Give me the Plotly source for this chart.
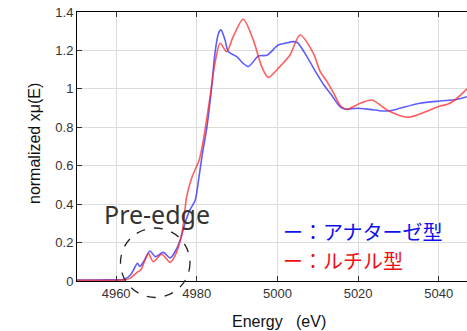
import plotly.graph_objects as go

# Anatase (blue)
anatase_E = [4950, 4958, 4962, 4963.5, 4964.5, 4965.3, 4965.9, 4966.8, 4968.4, 4969.7,
             4971.7, 4973.4, 4974.8, 4976.0, 4977.2, 4978.3, 4979.6, 4980.4, 4981.3,
             4982.5, 4983.7, 4984.5, 4985.4, 4986.0, 4987.0, 4987.8, 4989.9, 4991.5,
             4992.8, 4995.3, 4997.4, 5000.2, 5002.0, 5004.0, 5005.0, 5007.3, 5009.7,
             5011.5, 5013.5, 5015.5, 5016.8, 5019.7, 5022.9, 5026.0, 5028.0, 5030.4,
             5035.3, 5040.3, 5044.4, 5047.0]
anatase_mu = [0.005, 0.006, 0.009, 0.03, 0.065, 0.092, 0.076, 0.10, 0.156, 0.127,
              0.149, 0.12, 0.16, 0.22, 0.31, 0.37, 0.42, 0.52, 0.65,
              0.80, 1.01, 1.185, 1.29, 1.307, 1.255, 1.194, 1.168, 1.133,
              1.116, 1.171, 1.175, 1.228, 1.238, 1.246, 1.24, 1.168, 1.081,
              1.02, 0.965, 0.907, 0.894, 0.899, 0.893, 0.885, 0.886, 0.899,
              0.925, 0.937, 0.945, 0.959]

# Rutile (red)
rutile_E = [4950, 4958, 4962, 4963.5, 4965.2, 4966.2, 4967.0, 4968.0, 4969.2, 4971.3,
            4973.4, 4974.8, 4976.0, 4976.7, 4977.5, 4978.8, 4979.6, 4980.6, 4981.6,
            4983.3, 4984.5, 4985.8, 4987.4, 4989.0, 4991.5, 4994.0, 4996.1, 4997.7,
            5000.6, 5003.1, 5005.6, 5008.9, 5010.6, 5012.2, 5014.0, 5015.5, 5017.2,
            5020.5, 5023.4, 5026.2, 5028.0, 5032.4, 5037.8, 5040.3, 5042.0, 5044.0,
            5047.0]
rutile_mu = [0.003, 0.004, 0.006, 0.015, 0.045, 0.06, 0.10, 0.144, 0.10, 0.139,
             0.097, 0.14, 0.22, 0.30, 0.44, 0.54, 0.58, 0.63, 0.73,
             0.96, 1.133, 1.237, 1.194, 1.27, 1.362, 1.255, 1.116, 1.06,
             1.116, 1.176, 1.28, 1.185, 1.09, 1.04, 0.975, 0.916, 0.894,
             0.925, 0.942, 0.904, 0.881, 0.852, 0.89, 0.911, 0.918, 0.942,
             1.0]

x_ticks = [4960, 4980, 5000, 5020, 5040]
y_ticks = [0, 0.2, 0.4, 0.6, 0.8, 1, 1.2, 1.4]

fig = go.Figure()
fig.add_trace(go.Scatter(x=anatase_E, y=anatase_mu, mode="lines",
                         line=dict(color="rgba(40,40,255,0.75)", width=1.6, shape="spline", smoothing=0.8),
                         showlegend=False))
fig.add_trace(go.Scatter(x=rutile_E, y=rutile_mu, mode="lines",
                         line=dict(color="rgba(255,40,40,0.75)", width=1.6, shape="spline", smoothing=0.8),
                         showlegend=False))

tickfont = dict(family="Liberation Sans Narrow, Liberation Sans, Arial", size=13, color="#333")
fig.update_xaxes(range=[4950.3, 5047.0], tickvals=x_ticks, showgrid=True, gridcolor="#dcdcdc",
                 gridwidth=1, showline=True, linecolor="black", linewidth=1, mirror="ticks",
                 ticks="inside", ticklen=5, tickcolor="#333", tickfont=tickfont, zeroline=False)
fig.update_yaxes(range=[0, 1.4], tickvals=y_ticks, showgrid=True, gridcolor="#dcdcdc",
                 gridwidth=1, showline=True, linecolor="black", linewidth=1,
                 ticks="inside", ticklen=5, tickcolor="#333", tickfont=tickfont, zeroline=False)

fig.update_layout(
    width=467, height=331,
    margin=dict(l=77, r=0, t=12, b=50),
    plot_bgcolor="white", paper_bgcolor="white",
    shapes=[dict(type="circle", xref="paper", yref="paper",
                 x0=0.1115, x1=0.2897, y0=-0.0613, y1=0.197,
                 line=dict(color="#222", width=1.3, dash="dash"))],
    annotations=[
        dict(text="Energy\u00a0\u00a0\u00a0(eV)", xref="paper", yref="paper", x=(279 - 77) / 390,
             y=(281 - 321) / 269, xanchor="center", yanchor="middle", showarrow=False,
             font=dict(family="Liberation Sans, Arial", size=16, color="#111")),
        dict(text="normalized xμ(E)", xref="paper", yref="paper", x=(34 - 77) / 390,
             y=(281 - 144) / 269, xanchor="center", yanchor="middle", textangle=-90,
             showarrow=False, font=dict(family="Liberation Sans, Arial", size=16, color="#111")),
        dict(text="Pre-edge", xref="paper", yref="paper", x=(102 - 77) / 390,
             y=(281 - 214) / 269, xanchor="left", yanchor="middle", showarrow=False,
             font=dict(family="Noto Sans, DejaVu Sans", size=25, color="#333")),
        dict(text="ー：アナターゼ型", xref="paper", yref="paper", x=(281 - 77) / 390,
             y=(281 - 231) / 269, xanchor="left", yanchor="middle", showarrow=False,
             font=dict(family="Noto Sans CJK JP", size=20, color="#1010ee")),
        dict(text="ー：ルチル型", xref="paper", yref="paper", x=(281 - 77) / 390,
             y=(281 - 260.5) / 269, xanchor="left", yanchor="middle", showarrow=False,
             font=dict(family="Noto Sans CJK JP", size=20, color="#ee1010")),
    ],
)

fig.write_html("out.html")
